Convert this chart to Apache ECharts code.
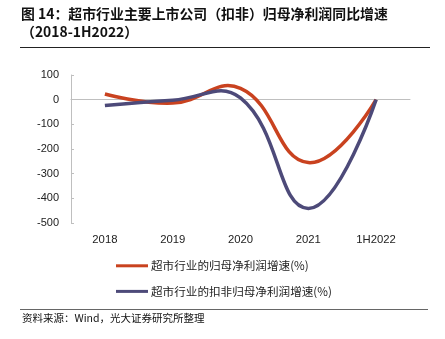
<!DOCTYPE html>
<html><head><meta charset="utf-8">
<script src="https://cdn.jsdelivr.net/npm/echarts@6/dist/echarts.min.js"></script>
<style>html,body{margin:0;padding:0;background:#fff}#c{width:445px;height:339px}</style>
</head><body><div id="c"></div>
<script>
const categories = ['2018', '2019', '2020', '2021', '1H2022'];
const netProfitGrowth = [23, -14, 46, -255, 0];
const deductedNetProfitGrowth = [-24, -2, 7, -441, 0];
const seriesNames = ['超市行业的归母净利润增速(%)', '超市行业的扣非归母净利润增速(%)'];
const titleLine1 = '图 14：超市行业主要上市公司（扣非）归母净利润同比增速';
const titleLine2 = '（2018-1H2022）';
const sourceText = '资料来源：Wind，光大证券研究所整理';

const SMOOTH = 0.45;
function smoothPath(pts, s) {
  let d = 'M' + pts[0][0] + ',' + pts[0][1];
  let cp0 = pts[0];
  for (let i = 1; i < pts.length; i++) {
    const p = pts[i], prev = pts[i - 1];
    let cp1 = p, nextCp0 = p;
    if (i < pts.length - 1) {
      const next = pts[i + 1];
      const vx = next[0] - prev[0], vy = next[1] - prev[1];
      const lp = Math.hypot(p[0] - prev[0], p[1] - prev[1]);
      const ln = Math.hypot(next[0] - p[0], next[1] - p[1]);
      const r = ln / (ln + lp);
      cp1 = [p[0] - vx * s * (1 - r), p[1] - vy * s * (1 - r)];
      nextCp0 = [p[0] + vx * s * r, p[1] + vy * s * r];
    }
    d += ' C' + cp0[0] + ',' + cp0[1] + ' ' + cp1[0] + ',' + cp1[1] + ' ' + p[0] + ',' + p[1];
    cp0 = nextCp0;
  }
  return d;
}
function curveSeries(name, values, color, z) {
  return {
    name: name, type: 'custom', coordinateSystem: 'cartesian2d', z: z,
    data: values.map((v, i) => [i, v]),
    encode: {x: 0, y: 1},
    itemStyle: {color: color},
    renderItem: function (params, api) {
      if (params.dataIndex !== 0) return null;
      const pts = values.map((v, i) => api.coord([i, v]));
      return {
        type: 'path', shape: {pathData: smoothPath(pts, SMOOTH)},
        style: {stroke: color, lineWidth: 3.5, fill: null, lineJoin: 'round', lineCap: 'butt'}
      };
    }
  };
}

const chart = echarts.init(document.getElementById('c'), null, {renderer: 'canvas'});
const cjk = '"Noto Sans CJK SC", "Noto Sans", sans-serif';
chart.setOption({
  animation: false,
  backgroundColor: '#fff',
  grid: {left: 71, right: 35, top: 75, bottom: 116, containLabel: false},
  xAxis: {
    type: 'category', data: categories, boundaryGap: true,
    axisLine: {onZero: true, lineStyle: {color: '#BFBFBF', width: 1}},
    axisTick: {inside: true, length: 5, lineStyle: {color: '#BFBFBF'}},
    axisLabel: {color: '#222', fontSize: 11.3, fontFamily: 'Liberation Sans, Arial', margin: 11},
    splitLine: {show: false}
  },
  yAxis: {
    type: 'value', min: -500, max: 100, interval: 100,
    axisLine: {show: true, lineStyle: {color: '#BFBFBF', width: 1}},
    axisTick: {show: true, inside: true, length: 3, lineStyle: {color: '#BFBFBF'}},
    axisLabel: {color: '#222', fontSize: 11, fontFamily: 'Liberation Sans, Arial', margin: 12},
    splitLine: {show: false}
  },
  legend: {
    orient: 'vertical', left: 116, top: 260, itemGap: 14, padding: 0,
    itemWidth: 32, itemHeight: 3, icon: 'rect',
    textStyle: {color: '#222', fontSize: 11.6, fontFamily: cjk, padding: [0, 0, 0, -2]},
    data: seriesNames
  },
  series: [
    curveSeries(seriesNames[0], netProfitGrowth, '#C9421F', 3),
    curveSeries(seriesNames[1], deductedNetProfitGrowth, '#4D4A79', 4)
  ],
  graphic: [
    {type: 'text', left: 21, top: 7, style: {text: titleLine1, fill: '#111', font: 'bold 13.9px ' + cjk}},
    {type: 'text', left: 21, top: 25, style: {text: titleLine2, fill: '#111', font: 'bold 13.9px ' + cjk}},
    {type: 'line', shape: {x1: 20, y1: 47.5, x2: 430, y2: 47.5}, style: {stroke: '#222', lineWidth: 1}},
    {type: 'line', shape: {x1: 20, y1: 309.5, x2: 428, y2: 309.5}, style: {stroke: '#666', lineWidth: 1}},
    {type: 'text', left: 22, top: 313, style: {text: sourceText, fill: '#111', font: '10.5px ' + cjk}}
  ]
});
</script></body></html>
